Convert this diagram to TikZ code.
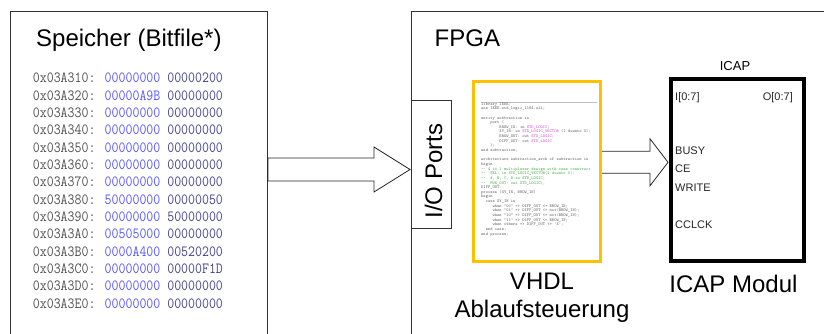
\documentclass[tikz,border=0pt]{standalone}
\usepackage{fontspec}
\usepackage{graphicx}
\setmainfont{Liberation Sans}
\usetikzlibrary{calc}

\definecolor{addr}{RGB}{80,80,80}
\definecolor{dataA}{RGB}{85,85,255}
\definecolor{dataB}{RGB}{65,65,145}
\definecolor{vhdlframe}{RGB}{255,192,0}
\definecolor{vtype}{RGB}{205,80,205}
\definecolor{vcomment}{RGB}{70,170,70}
\definecolor{vtext}{RGB}{95,95,95}

% wide outlined arrow from a start point to a tip (same height)
\newcommand\fatarrowpath[5]{%
  \draw[fatarrow] ($(#1)+(0,-#3)$) -- ($(#2)+(-#5,-#3)$) -- ($(#2)+(-#5,-#4)$)
    -- (#2) -- ($(#2)+(-#5,#4)$) -- ($(#2)+(-#5,#3)$) -- ($(#1)+(0,#3)$) -- cycle;}

\newcommand\ty[1]{\textcolor{vtype}{#1}}
\newcommand\cm[1]{\textcolor{vcomment}{#1}}
\newcommand\dumprow[3]{\scalebox{1}[1.15]{\textcolor{addr}{#1:} \textcolor{dataA}{#2} \textcolor{dataB}{#3}}}

\tikzset{
  frame/.style={draw=black!80, line width=1pt, inner sep=0, anchor=north west},
  big/.style={font=\fontsize{24}{28}\selectfont, inner sep=0},
  pin/.style={font=\fontsize{11}{13}\selectfont, inner sep=0, anchor=base west, text=black!85},
  dumpline/.style={font=\ttfamily\addfontfeatures{FakeBold=0.5}\fontsize{13.5}{16}\selectfont,
    inner sep=0, anchor=base west},
  code/.style={font=\ttfamily\fontsize{4.3}{4.64}\selectfont, inner sep=0, align=left,
    anchor=north west, text=vtext},
  fatarrow/.style={draw=black!85, line width=0.8pt, fill=white, line join=miter},
}

\begin{document}
\begin{tikzpicture}[x=1pt, y=-1pt]
\useasboundingbox (0,0) rectangle (824,333);
\clip (0,0) rectangle (824,333);

% memory and FPGA frames (continue below the picture edge)
\node[frame, minimum width=257, minimum height=360] (mem) at (10,11) {};
\node[frame, minimum width=440, minimum height=360] (fpga) at (411,11) {};

\node[big, anchor=base west] (memtitle) at (36,46.5) {Speicher (Bitfile*)};
\node[big, anchor=base west] (fpgatitle) at (434.5,46.5) {FPGA};

% hex dump of the bitfile
\foreach \a/\b/\c [count=\i] in {
  0x03A310/00000000/00000200,
  0x03A320/00000A9B/00000000,
  0x03A330/00000000/00000000,
  0x03A340/00000000/00000000,
  0x03A350/00000000/00000000,
  0x03A360/00000000/00000000,
  0x03A370/00000000/00000000,
  0x03A380/50000000/00000050,
  0x03A390/00000000/50000000,
  0x03A3A0/00505000/00000000,
  0x03A3B0/0000A400/00520200,
  0x03A3C0/00000000/00000F1D,
  0x03A3D0/00000000/00000000,
  0x03A3E0/00000000/00000000}
{
  \node[dumpline] (m\i) at (32.7,{82.7+17.35*(\i-1)}) {\dumprow{\a}{\b}{\c}};
}

% I/O ports
\node[frame, minimum width=40, minimum height=128] (io) at (411,100) {};
\node[big, rotate=90, anchor=base] (iolbl) at (442,171) {I/O Ports};

% arrow memory -> I/O ports
\coordinate (y1) at (0,169.5);
\coordinate (a1s) at (mem.east |- y1);
\coordinate (a1t) at ($(io.west |- y1)+(-1,0)$);
\fatarrowpath{a1s}{a1t}{11.5}{22.5}{36}

% arrow VHDL control -> ICAP
\coordinate (a2s) at (598.8,162.3);
\coordinate (a2t) at (668,162.3);
\fatarrowpath{a2s}{a2t}{11}{23.5}{18}

% VHDL control block with its source listing
\node[draw=vhdlframe, line width=3pt, fill=white, inner sep=0, anchor=north west,
  minimum width=127, minimum height=180] (vhdl) at (471.7,80) {};
\draw[black!25, line width=0.4pt] (481,102) -- (597,102);
\node[code] (src) at (481,102.3) {%
library IEEE;\\
use IEEE.std\_logic\_1164.all;\\
~\\
entity subtraction is\\
~~~~port (\\
~~~~~~~~BROW\_IN: in \ty{STD\_LOGIC};\\
~~~~~~~~XY\_IN: in \ty{STD\_LOGIC\_VECTOR} (1 downto 0);\\
~~~~~~~~BROW\_OUT: out \ty{STD\_LOGIC};\\
~~~~~~~~DIFF\_OUT: out \ty{STD\_LOGIC}\\
~~~~);\\
end subtraction;\\
~\\
architecture subtraction\_arch of subtraction is\\
begin\\
\cm{-- 4 to 1 multiplexer design with case construct}\\
\cm{--~~SEL: in STD\_LOGIC\_VECTOR(1 downto 0);}\\
\cm{--~~A, B, C, D:in STD\_LOGIC;}\\
\cm{--~~MUX\_OUT: out STD\_LOGIC);}\\
DIFF\_OUT:\\
process (XY\_IN, BROW\_IN)\\
begin\\
~~case XY\_IN is\\
~~~~~when "00" => DIFF\_OUT <= BROW\_IN;\\
~~~~~when "01" => DIFF\_OUT <= not(BROW\_IN);\\
~~~~~when "10" => DIFF\_OUT <= not(BROW\_IN);\\
~~~~~when "11" => DIFF\_OUT <= BROW\_IN;\\
~~~~~when others => DIFF\_OUT <= 'X';\\
~~end case;\\
end process;};

\node[big, anchor=base] (vhdl1) at (542,289) {VHDL};
\node[big, anchor=base] (vhdl2) at (542,317) {Ablaufsteuerung};

% ICAP primitive
\node[draw=black, line width=4pt, fill=white, inner sep=0, anchor=north west,
  minimum width=133, minimum height=181.5] (icap) at (669,77) {};
\node[font=\fontsize{13}{15}\selectfont, inner sep=0, anchor=base] (icaplbl) at (735,70) {ICAP};
\node[pin] (pI) at (675,100) {I[0:7]};
\node[pin, anchor=base east] (pO) at (793,100) {O[0:7]};
\node[pin] (pBusy) at (675,154) {BUSY};
\node[pin] (pCe) at (675,172.3) {CE};
\node[pin] (pWrite) at (675,191) {WRITE};
\node[pin] (pClk) at (675,228.3) {CCLCK};
\node[big, anchor=base] (icapname) at (733.5,292) {ICAP Modul};
\end{tikzpicture}
\end{document}
